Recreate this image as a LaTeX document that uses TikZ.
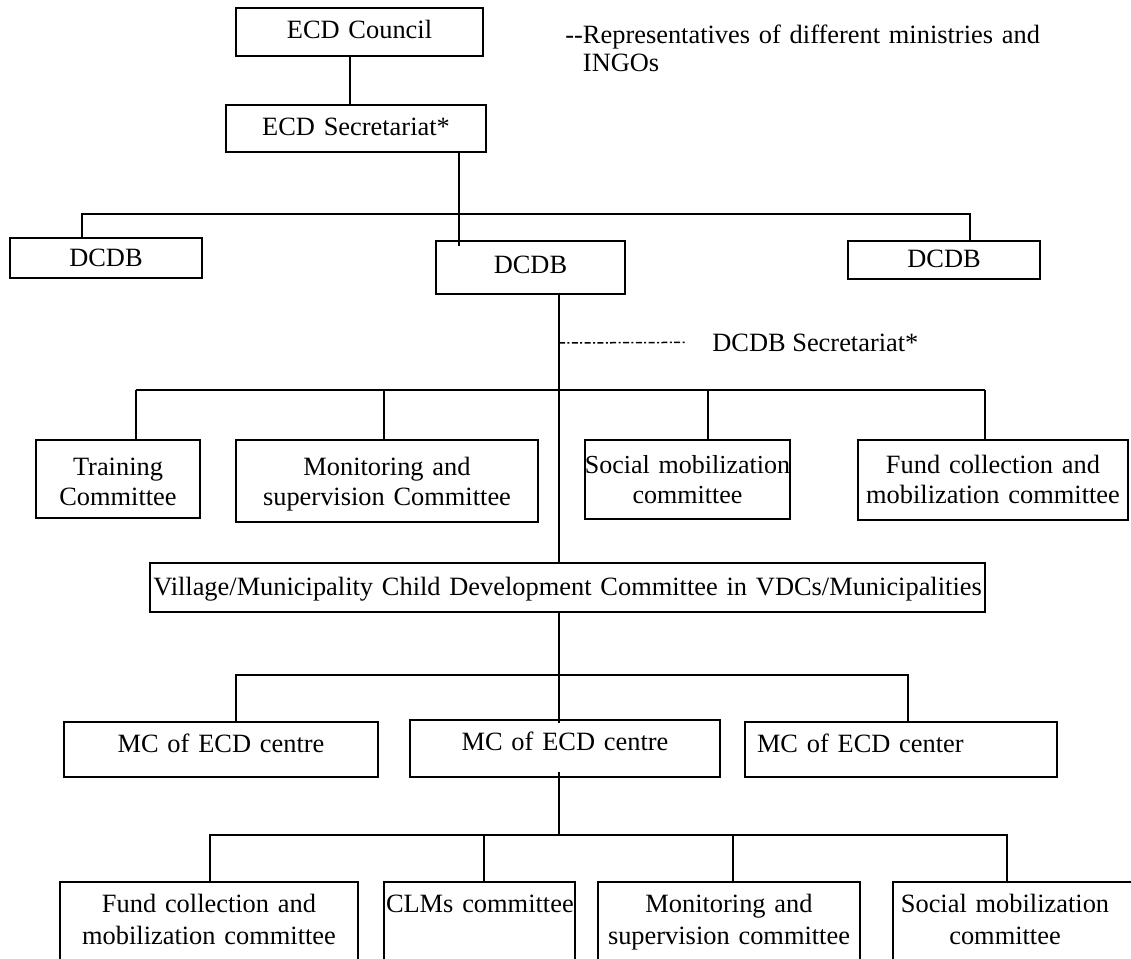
\documentclass[tikz,border=0pt]{standalone}
\usepackage{fontspec}
\setmainfont{Liberation Serif}
\begin{document}
\begin{tikzpicture}[x=0.5pt,y=-0.5pt,
  box/.style={draw, line width=1pt, rectangle, inner ysep=0pt, inner xsep=-5pt},
  conn/.style={line width=0.75pt},
  dashconn/.style={line width=0.75pt, dash pattern=on 3pt off 1.2pt on 1pt off 1.2pt},
  every node/.style={font=\fontsize{13.2}{15}\selectfont}]
\useasboundingbox (0,0) rectangle (1131,959);
\clip (0,0) rectangle (1131,959);
\newcommand\orgbox[9]{%
 \pgfmathsetmacro\obW{(#4-#2)*0.5}%
 \pgfmathsetmacro\obTW{(#4-#2)*0.5+10}%
 \pgfmathsetmacro\obH{(#5-#3)*0.5}%
 \pgfmathsetmacro\obX{(#2+#4)/2}%
 \pgfmathsetmacro\obY{(#3+#5)/2}%
 \pgfmathsetmacro\obT{(#6-(#3+#5)/2)}%
 \pgfmathsetmacro\obTh{max(\obT,0)}%
 \pgfmathsetmacro\obTd{max(-\obT,0)}%
 \node[box, minimum width=\obW pt, minimum height=\obH pt, text width=\obTW pt,
   align=#7, text height=\obTh pt, text depth=\obTd pt, #9] (#1) at (\obX,\obY) {#8};}
% boxes
\orgbox{council}{236}{8}{483}{56}{38}{center}{ECD Council}{}
\orgbox{secr}{226}{105}{486}{152}{135}{center}{ECD Secretariat*}{}
\orgbox{dleft}{10}{238}{202}{278}{266}{center}{DCDB}{}
\orgbox{dmid}{436}{241}{625}{294}{273}{center}{DCDB}{}
\orgbox{dright}{848}{241}{1040}{279}{267}{center}{DCDB}{}
\orgbox{train}{36}{440}{200}{518}{475}{center}{Training\\Committee}{}
\orgbox{monit}{236}{440}{538}{522}{475}{center}{Monitoring and\\supervision Committee}{}
\orgbox{social}{585}{440}{790}{519}{473}{center}{Social mobilization\\committee}{font=\fontsize{13}{15}\selectfont}
\orgbox{fund}{858}{440}{1128}{520}{473}{center}{Fund collection and\\mobilization committee}{}
\orgbox{village}{150}{563}{985}{612}{595}{center}{Village/Municipality Child Development Committee in VDCs/Municipalities}{}
\orgbox{mcleft}{64}{722}{378}{777}{752}{center}{MC of ECD centre}{}
\orgbox{mcmid}{410}{720}{720}{777}{750}{center}{MC of ECD centre}{}
\orgbox{mcright}{745}{722}{1057}{777}{752}{left}{\hspace*{11pt}MC of ECD center}{}
\orgbox{bfund}{60}{882}{358}{1000}{912}{center}{Fund collection and\\mobilization committee}{font=\fontsize{13.2}{16}\selectfont}
\orgbox{bclm}{384}{882}{575}{1000}{912}{left}{\hspace*{6pt}CLMs committee}{}
\orgbox{bmon}{598}{882}{860}{1000}{912}{center}{Monitoring and\\supervision committee}{font=\fontsize{13.2}{16}\selectfont}
\orgbox{bsoc}{893}{882}{1140}{1000}{912}{left}{\hspace*{5pt}\makebox[112pt][c]{Social mobilization}\\\hspace*{5pt}\makebox[112pt][c]{committee}}{font=\fontsize{13.2}{16}\selectfont}
% free texts
\node[anchor=base west, inner sep=0pt, text width=260pt, align=left, font=\fontsize{13.2}{14}\selectfont] (note) at (565,43)
  {-{}-Representatives of different ministries and\\\hphantom{-{}-}INGOs};
\node[anchor=base west, inner sep=0pt] (dsec) at (712,351) {DCDB Secretariat*};
% x positions of connectors
\coordinate (xa) at (350,0);
\coordinate (xb) at (459,0);
\coordinate (xm) at (559,0);
\coordinate (x82) at (82,0);
\coordinate (x970) at (970,0);
\coordinate (x136) at (136,0);
\coordinate (x384) at (384,0);
\coordinate (x708) at (708,0);
\coordinate (x985) at (985,0);
\coordinate (x236) at (236,0);
\coordinate (x908) at (908,0);
\coordinate (x210) at (210,0);
\coordinate (x484) at (484,0);
\coordinate (x733) at (733,0);
\coordinate (x1007) at (1007,0);
% buses
\coordinate (bus1) at (0,214);
\coordinate (bus2) at (0,390);
\coordinate (bus3) at (0,675);
\coordinate (bus4) at (0,835);
\coordinate (dj) at (559,343);
% connectors
\draw[conn] (council.south -| xa) -- (secr.north -| xa);
\draw[conn] (secr.south -| xb) -- ([yshift=-3pt]dmid.north -| xb);
\draw[conn] (dleft.north -| x82) -- (bus1 -| x82) -- (bus1 -| x970) -- (dright.north -| x970);
\draw[conn] (dmid.south -| xm) -- (village.north -| xm);
\draw[conn] (bus2 -| x136) -- (bus2 -| x985);
\draw[conn] (bus2 -| x136) -- (train.north -| x136);
\draw[conn] (bus2 -| x384) -- (monit.north -| x384);
\draw[conn] (bus2 -| x708) -- (social.north -| x708);
\draw[conn] (bus2 -| x985) -- (fund.north -| x985);
\draw[dashconn] (dj) -- ([xshift=-13.5pt]dsec.west);
\draw[conn] (village.south -| xm) -- ([yshift=-2pt]mcmid.north -| xm);
\draw[conn] (mcleft.north -| x236) -- (bus3 -| x236) -- (bus3 -| x908) -- (mcright.north -| x908);
\draw[conn] ([yshift=3pt]mcmid.south -| xm) -- (bus4 -| xm);
\draw[conn] (bfund.north -| x210) -- (bus4 -| x210) -- (bus4 -| x1007) -- (bsoc.north -| x1007);
\draw[conn] (bus4 -| x484) -- (bclm.north -| x484);
\draw[conn] (bus4 -| x733) -- (bmon.north -| x733);
\end{tikzpicture}
\end{document}
